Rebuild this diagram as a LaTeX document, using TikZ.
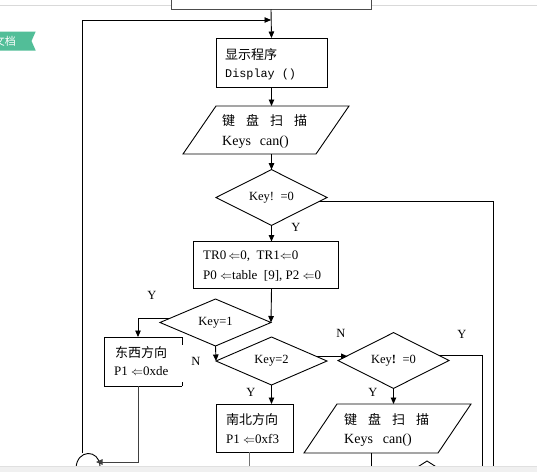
\documentclass[tikz,border=0pt]{standalone}
\usepackage{fontspec}
\setmainfont{Liberation Serif}
\newfontfamily\cjk{Noto Sans CJK SC}
\newfontfamily\mono{Liberation Mono}
\usetikzlibrary{shapes.geometric,arrows.meta,calc}
\definecolor{tagg}{HTML}{52BE98}
\definecolor{barg}{HTML}{F0F0F0}
\begin{document}
\begin{tikzpicture}[x=1pt,y=-1pt,
  line/.style={draw=black,line width=0.9pt},
  arr/.style={line,-{Triangle[length=6.5pt,width=5.5pt]}},
  box/.style={draw=black,line width=0.9pt,rectangle,inner sep=0pt,outer sep=0pt,fill=white},
  dia/.style={draw=black,line width=0.9pt,diamond,inner sep=0pt,outer sep=0pt,minimum width=111pt,minimum height=47pt,font=\fontsize{12.5}{14}\selectfont},
  ghost/.style={rectangle,inner sep=0pt,outer sep=0pt},
  cn/.style={font=\cjk\fontsize{13}{15}\selectfont,inner sep=0pt,anchor=base west},
  tx/.style={font=\fontsize{13}{15}\selectfont,inner sep=0pt,anchor=base west},
  lbl/.style={font=\fontsize{12.5}{14}\selectfont,inner sep=0pt},
]
\useasboundingbox (0,0) rectangle (537,471);
\clip (0,0) rectangle (537,471);
\fill[white] (0,0) rectangle (537,471);
% page edge and top box
\draw[draw=black!15,line width=1pt] (0,5) -- (537,5);
\node[box,draw=black!70,minimum width=200pt,minimum height=14pt] (top) at (271,2.5) {};
% side tag
\fill[tagg] (-2,31.5) -- (35.7,31.5) -- (31.5,41) -- (35.7,50.5) -- (-2,50.5) -- cycle;
\node[font=\cjk\fontsize{11}{12}\selectfont,text=white,inner sep=0pt,anchor=east] (tag) at (16,41) {文档};
% display box
\node[box,minimum width=111pt,minimum height=49pt] (disp) at (271.5,62.5) {};
\node[cn] (dispa) at (225,59) {显示程序};
\node[tx,font=\mono\fontsize{11.8}{13}\selectfont] (dispb) at (225,77) {Display ()};
% keyboard scan 1
\node[ghost,minimum width=166pt,minimum height=48pt] (p1) at (266,130) {};
\draw[line] ($(p1.north west)+(33,0)$) -- (p1.north east) -- ($(p1.south east)+(-33,0)$) -- (p1.south west) -- cycle;
\node[cn] (p1a) at (222,125) {键\hspace{11pt}盘\hspace{11pt}扫\hspace{11pt}描};
\node[tx,font=\fontsize{14}{16}\selectfont] (p1b) at (222,145.5) {Keys\hspace{9pt}can()};
% decision 1
\node[dia] (d1) at (271.5,197.5) {Key!\hspace{6.5pt}=0};
\node[lbl] (y1) at (296,227) {Y};
% init box
\node[box,minimum width=145pt,minimum height=47pt] (b2) at (265.5,265) {};
\node[tx] (b2a) at (203,259.7) {TR0\,$\Leftarrow$0,\ \ TR1$\Leftarrow$0};
\node[tx] (b2b) at (203,279.7) {P0 $\Leftarrow$table\ \ [9],\ P2 $\Leftarrow$0};
% Key=1
\node[dia] (k1) at (215.5,322.5) {Key=1};
\node[lbl] (y2) at (152,295) {Y};
% east-west box
\node[ghost,minimum width=78pt,minimum height=49pt] (ew) at (143,361.5) {};
\draw[line] (ew.north east) -- (ew.north west) -- (ew.south west) -- (ew.south east);
\draw[line] (ew.north east) -- ++(0,8);
\draw[line] (ew.south east) -- ++(0,-4);
\node[cn] (ewa) at (115,357) {东西方向};
\node[tx] (ewb) at (114,375.5) {P1 $\Leftarrow$0xde};
\node[lbl] (n1) at (196,361) {N};
% Key=2
\node[dia,minimum height=48pt] (k2) at (271.5,361) {Key=2};
\node[lbl] (y3) at (251,392) {Y};
% north-south box
\node[box,minimum width=77pt,minimum height=48pt] (ns) at (254.5,428) {};
\node[cn] (nsa) at (226,424) {南北方向};
\node[tx] (nsb) at (226,443) {P1 $\Leftarrow$0xf3};
% decision 3
\node[dia] (d3) at (393.5,360.5) {Key\textbf{!}\hspace{6.5pt}=0};
\node[lbl] (n2) at (341,333) {N};
\node[lbl] (y4) at (462,334) {Y};
\node[lbl] (y5) at (373,392) {Y};
% keyboard scan 2
\node[ghost,minimum width=167pt,minimum height=49pt] (p2) at (387.5,428.5) {};
\draw[line] ($(p2.north west)+(33,0)$) -- (p2.north east) -- ($(p2.south east)+(-33,0)$) -- (p2.south west) -- cycle;
\node[cn] (p2a) at (344,424) {键\hspace{11pt}盘\hspace{11pt}扫\hspace{11pt}描};
\node[tx,font=\fontsize{14}{16}\selectfont] (p2b) at (344,443) {Keys\hspace{10pt}can()};
% connectors
\draw[arr] (top.south) -- (disp.north);
\coordinate (lpb) at (82,453);
\coordinate (lpt) at (82,20);
\draw[arr] (lpb) -- (lpt) -- (lpt -| top.south);
\coordinate (hopl) at (76,468);
\coordinate (hopr) at (100,466);
\draw[line] (hopl) .. controls (77,449) and (99,449) .. (hopr);
\draw[arr] (disp.south) -- (disp.south |- p1.north);
\draw[arr] (disp.south |- p1.south) -- (d1.north);
\draw[arr] (d1.south) -- (d1.south |- b2.north);
\draw[arr] (d1.south |- b2.south) -- (k1.east);
\draw[arr] (k1.175) -| ([xshift=-5pt]ew.north);
\draw[arr] (k1.south) -- (k2.west);
\draw[arr] (k2.south) -- (k2.south |- ns.north);
\draw[arr] (k2.6) -- (k2.6 -| d3.174);
\draw[arr] (d3.south) -- (d3.south |- p2.north);
\coordinate (r1) at (482,475);
\coordinate (r2) at (493,475);
\draw[line] (d3.6) -| (r1);
\draw[line] (d1.-5) -| (r2);
\coordinate (p2end) at (371,475);
\draw[line] (p2.south -| p2end) -- (p2end);
\coordinate (ewe) at (96,462);
\draw[arr,draw=black!75] ([xshift=-5pt]ew.south) |- (ewe);
\coordinate (nse) at (249,475);
\draw[line,draw=black!55] (ns.south -| nse) -- (nse);
\coordinate (pk) at (427,461);
\draw[line] ($(pk)+(-11,7)$) -- (pk) -- ($(pk)+(11,7)$);
% bottom bar
\fill[barg] (0,466) rectangle (537,472);
\draw[black!12] (0,466) -- (537,466);
\end{tikzpicture}
\end{document}
